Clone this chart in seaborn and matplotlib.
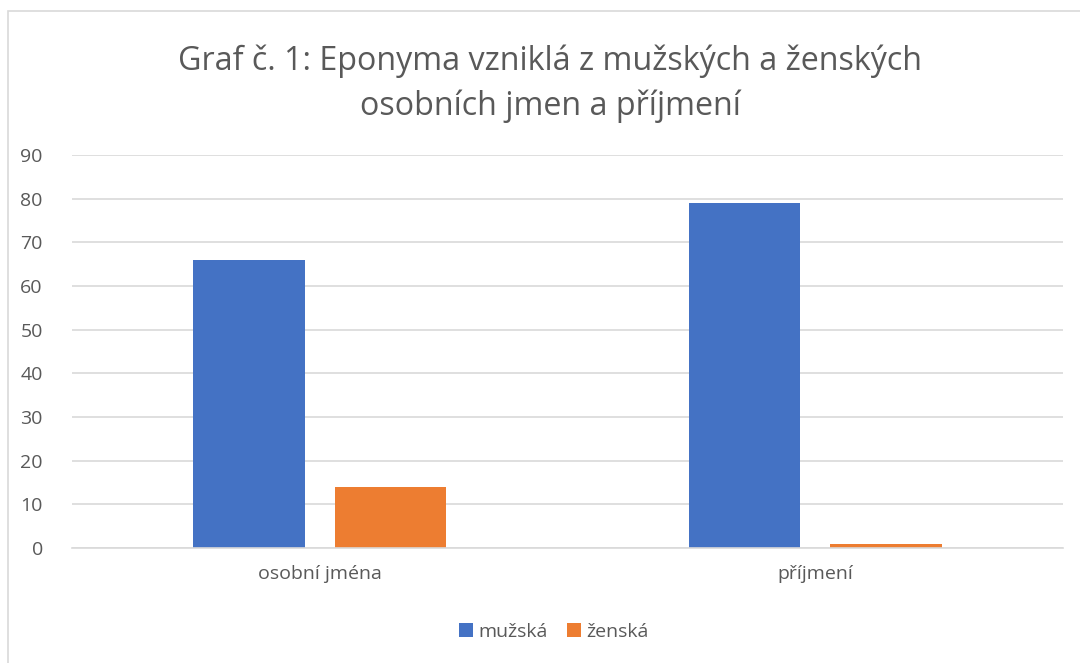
import matplotlib
matplotlib.use("Agg")
import matplotlib.pyplot as plt
import seaborn as sns
import pandas as pd
from matplotlib.patches import Rectangle, Patch

categories = ["osobní jména", "příjmení"]
series_names = ["mužská", "ženská"]
muzska = [66, 79]
zenska = [14, 1]
yticks = [0, 10, 20, 30, 40, 50, 60, 70, 80, 90]
title = "Graf č. 1: Eponyma vzniklá z mužských a ženských\nosobních jmen a příjmení"
colors = ["#4472C4", "#ED7D31"]

df = pd.DataFrame({
    "kategorie": categories * 2,
    "pohlaví": [series_names[0]] * 2 + [series_names[1]] * 2,
    "počet": muzska + zenska,
})

sns.set_theme(style="white")
plt.rcParams["font.family"] = ["Open Sans", "DejaVu Sans"]
txt = "#595959"

fig = plt.figure(figsize=(10.8, 6.63), dpi=100)
ax = fig.add_axes([72 / 1080, 1 - 548 / 663, (1063 - 72) / 1080, (548 - 155) / 663])

sns.barplot(data=df, x="kategorie", y="počet", hue="pohlaví",
            palette=colors, width=0.57, gap=0.21, ax=ax, legend=False,
            saturation=1, edgecolor="none")

ax.set_ylim(0, 90)
ax.set_xlim(-0.5, 1.5)
ax.set_yticks(yticks)
ax.set_yticklabels([str(v) for v in yticks], color=txt, fontsize=14)
ax.tick_params(axis="x", colors=txt, labelsize=14, pad=12, length=0)
ax.tick_params(axis="y", length=0, pad=21)
for lab in ax.get_yticklabels():
    lab.set_ha("right")
ax.set_xlabel("")
ax.set_ylabel("")
ax.yaxis.grid(True, color="#D9D9D9", linewidth=1.2)
ax.set_axisbelow(True)
for s in ["top", "right", "left"]:
    ax.spines[s].set_visible(False)
ax.spines["bottom"].set_color("#D9D9D9")
ax.spines["bottom"].set_linewidth(1.2)

fig.text(550 / 1080, 1 - 84 / 663, title, ha="center", va="center",
         fontsize=23.2, color=txt, linespacing=1.45)

handles = [Patch(facecolor=c, edgecolor="none") for c in colors]
fig.legend(handles, series_names, loc="center", bbox_to_anchor=(554 / 1080, 1 - 632 / 663),
           ncol=2, frameon=False, fontsize=14, labelcolor=txt,
           handlelength=0.7, handleheight=0.7, handletextpad=0.3, columnspacing=1.0)

fig.patches.append(Rectangle((8 / 1080, -0.1), 1.2, 1 - 11 / 663 + 0.1,
                             transform=fig.transFigure, fill=False,
                             edgecolor="#D9D9D9", linewidth=1.2))

fig.savefig("out.png", dpi=100)
